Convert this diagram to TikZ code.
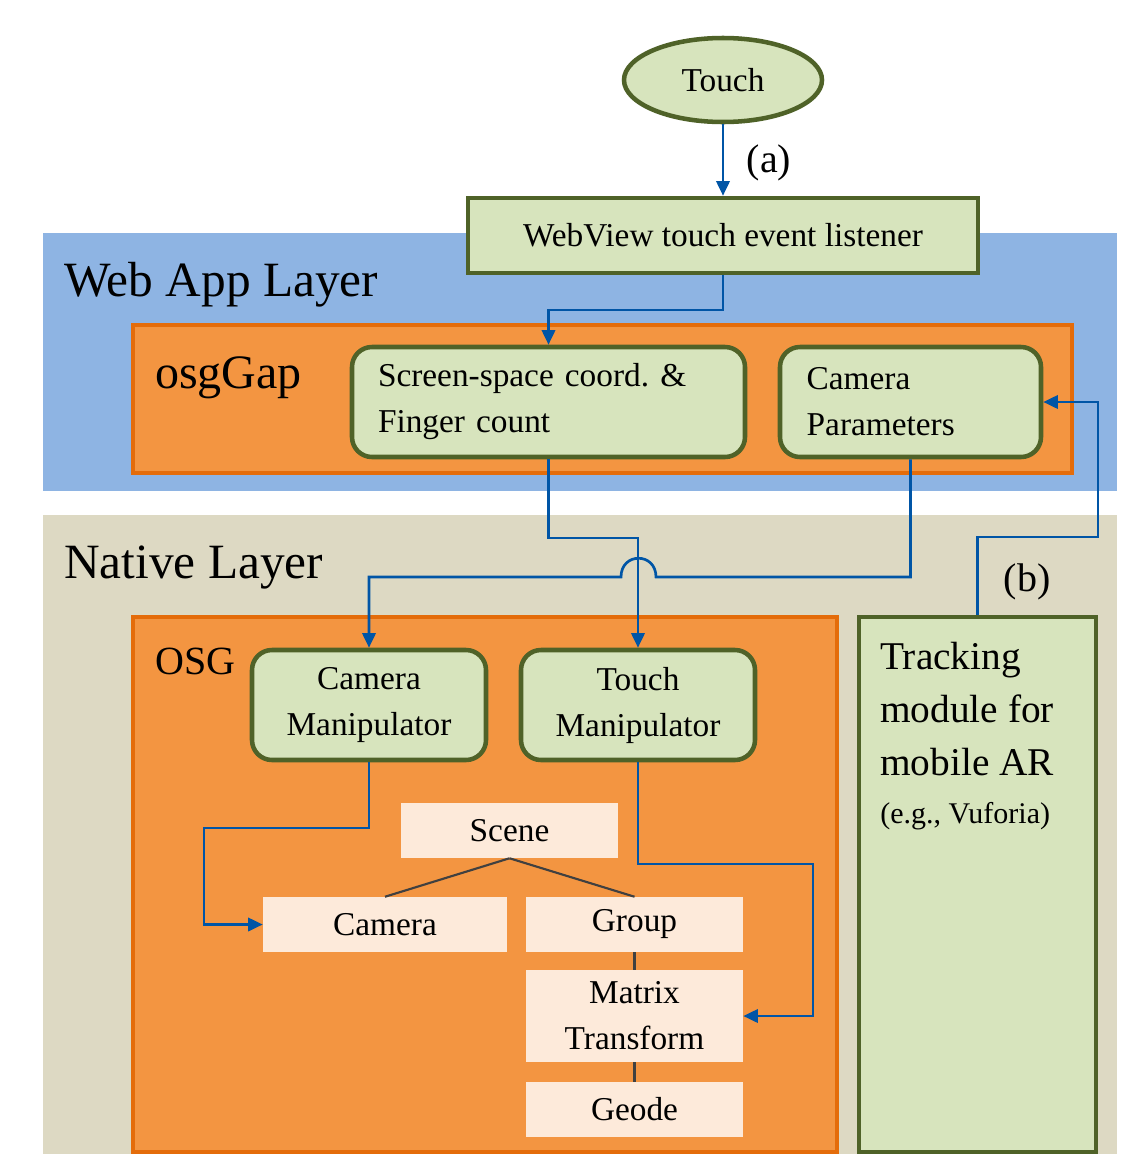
\documentclass[tikz,border=0pt]{standalone}
\usepackage{fontspec}
\setmainfont{Liberation Serif}
\usetikzlibrary{shapes.geometric,arrows.meta}
\definecolor{layerblue}{HTML}{8EB4E3}
\definecolor{layerbeige}{HTML}{DDD9C3}
\definecolor{orfill}{HTML}{F39541}
\definecolor{ordraw}{HTML}{E46C0A}
\definecolor{gfill}{HTML}{D7E4BD}
\definecolor{gdraw}{HTML}{4F6228}
\definecolor{peach}{HTML}{FDEADA}
\definecolor{conncol}{HTML}{0055A6}
\definecolor{treeline}{HTML}{404040}
\frenchspacing
\begin{document}
\begin{tikzpicture}[x=0.75pt,y=-0.75pt,
  body/.style={font=\fontsize{25}{34.5}\selectfont},
  sz/.style 2 args={minimum width=#1*0.75pt,minimum height=#2*0.75pt},
  layerbox/.style={draw=none,rectangle,inner sep=0pt},
  orbox/.style={rectangle,fill=orfill,draw=ordraw,line width=2.8pt,inner sep=0pt},
  gbox/.style={rectangle,fill=gfill,draw=gdraw,line width=3.4pt,inner sep=0pt,body,align=center},
  ground/.style={gbox,rounded corners=15pt},
  pbox/.style={rectangle,fill=peach,draw=none,inner sep=0pt,body,align=center},
  link/.style={draw=conncol,line width=2pt,-{Triangle[length=11pt,width=10pt]}},
  tree/.style={draw=treeline,line width=1.6pt},
  biglabel/.style={anchor=base west,inner sep=0pt},
]
\useasboundingbox (0,0) rectangle (1132,1154);
\fill[white] (0,0) rectangle (1132,1154);

% layers
\node[layerbox,fill=layerblue,sz={1074}{258}] (webapp) at (580,362) {};
\node[layerbox,fill=layerbeige,sz={1074}{639}] (native) at (580,834.5) {};
\node[biglabel,font=\fontsize{37}{40}\selectfont] (weblabel) at (64,296) {Web App Layer};
\node[biglabel,font=\fontsize{37}{40}\selectfont] (nativelabel) at (64,578) {Native Layer};

% orange containers
\node[orbox,sz={939}{148}] (osggap) at (602.5,399) {};
\node[orbox,sz={704}{535}] (osg) at (485,884.5) {};
\node[biglabel,font=\fontsize{36}{40}\selectfont] (osggaplabel) at (155,388) {osgGap};
\node[biglabel,font=\fontsize{30}{34}\selectfont] (osglabel) at (155,674) {OSG};

% top
\node[ellipse,fill=gfill,draw=gdraw,line width=3.4pt,inner sep=0pt,
      sz={198}{84},body] (touch) at (723,80) {Touch};
\node[gbox,sz={510}{75}] (web) at (723,235.5) {WebView touch event listener};
\node[font=\fontsize{30}{34}\selectfont,inner sep=0pt] (alabel) at (769,163) {(a)};

% osgGap boxes
\node[ground,sz={393}{110},inner xsep=19.5pt,text width=255.75pt,align=left] (screen)
  at (548.5,402) {Screen-space coord. \&\\Finger count};
\node[ground,sz={261}{110},inner xsep=20pt,text width=155.75pt,align=left] (campar)
  at (910.5,402) {Camera\\Parameters};

% OSG boxes
\node[ground,sz={234}{110}] (camman) at (369,705) {Camera\\Manipulator};
\node[ground,sz={234}{110}] (touchman) at (638,705) {Touch\\Manipulator};
\node[pbox,sz={217}{55}] (scene) at (509.5,830.5) {Scene};
\node[pbox,sz={244}{55}] (camera) at (385,924.5) {Camera};
\node[pbox,sz={217}{55}] (group) at (634.5,924.5) {Group};
\node[pbox,sz={217}{92}] (matrix) at (634.5,1016) {Matrix\\Transform};
\node[pbox,sz={217}{55}] (geode) at (634.5,1109.5) {Geode};

% tracking
\node[gbox,sz={237}{535}] (track) at (977.5,884.5) {};
\node[anchor=north west,inner sep=0pt,align=left,font=\fontsize{29.5}{39.75}\selectfont] (tracktext) at (880,642)
  {Tracking\\module for\\mobile AR\\[-4pt]{\fontsize{22.5}{26}\selectfont (e.g., Vuforia)}};
\node[font=\fontsize{30}{34}\selectfont,inner sep=0pt] (blabel) at (1027,582) {(b)};

% connectors
\draw[link] (touch.south) -- (web.north);
\draw[link] (web.south) -- (723,310) -| (screen.north);
\draw[link] (screen.south) -- (548.5,538) -| (touchman.north);
\draw[link] (campar.south) -- (910.5,577) -- (656,577)
  .. controls (656,552) and (621,552) .. (621,577) -| (camman.north);
\draw[link] (track.north) -- (977.5,537) -- (1098,537) |- (campar.east);
\draw[link] (camman.south) -- (369,828) -| (204,924.5) -- (camera.west);
\draw[link] (touchman.south) -- (638,864) -| (813,1016) -- (matrix.east);

% scene tree
\draw[tree] (scene.south) -- (camera.north);
\draw[tree] (scene.south) -- (group.north);
\draw[tree] (group.south) -- (matrix.north);
\draw[tree] (matrix.south) -- (geode.north);
\end{tikzpicture}
\end{document}
